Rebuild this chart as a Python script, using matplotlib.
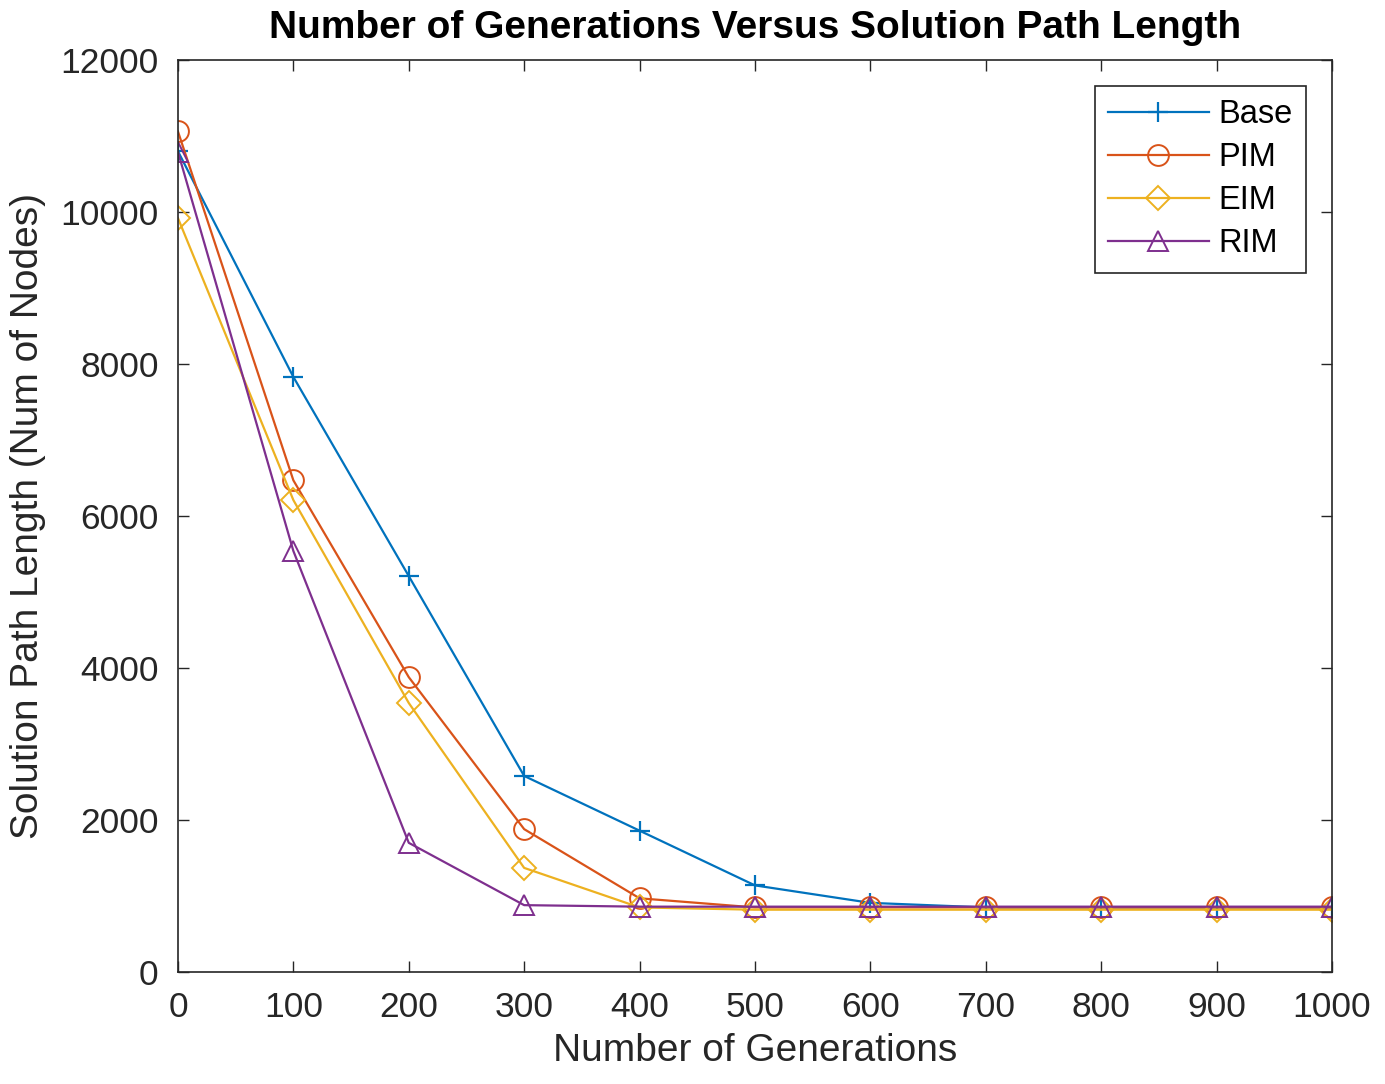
import matplotlib.pyplot as plt

generations = [0, 100, 200, 300, 400, 500, 600, 700, 800, 900, 1000]
base = [10800, 7830, 5210, 2580, 1860, 1140, 910, 850, 850, 850, 850]
pim = [11060, 6470, 3880, 1880, 970, 850, 850, 850, 850, 850, 850]
eim = [9920, 6210, 3540, 1370, 850, 820, 820, 820, 820, 820, 820]
rim = [10790, 5540, 1700, 880, 860, 860, 860, 860, 860, 860, 860]

plt.rcParams['font.family'] = ['Liberation Sans', 'DejaVu Sans']

fig = plt.figure(figsize=(13.85, 10.84), dpi=100)
ax = fig.add_axes([0.1285, 0.1033, 0.8332, 0.8413])

ms = 15
ax.plot(generations, base, color='#0072BD', marker='+', markersize=ms, mew=1.6, lw=1.6, label='Base')
ax.plot(generations, pim, color='#D95319', marker='o', markersize=ms, mfc='none', mew=1.4, lw=1.6, label='PIM')
ax.plot(generations, eim, color='#EDB120', marker='D', markersize=ms * 0.8, mfc='none', mew=1.4, lw=1.6, label='EIM')
ax.plot(generations, rim, color='#7E2F8E', marker='^', markersize=ms, mfc='none', mew=1.4, lw=1.6, label='RIM')

ax.set_xlim(0, 1000)
ax.set_ylim(0, 12000)
ax.set_xticks(generations)
ax.set_yticks(range(0, 12001, 2000))
ax.tick_params(direction='in', top=True, right=True, length=8, width=1, labelsize=25.5, colors='#262626', pad=14)
for s in ax.spines.values():
    s.set_color('#262626')
    s.set_linewidth(1.2)

ax.set_title('Number of Generations Versus Solution Path Length', fontsize=28, fontweight='bold', pad=16)
ax.set_xlabel('Number of Generations', fontsize=28, color='#262626', labelpad=6)
ax.set_ylabel('Solution Path Length (Num of Nodes)', fontsize=28, color='#262626', labelpad=10)

leg = ax.legend(loc='upper right', fontsize=23.5, fancybox=False, framealpha=1, edgecolor='#262626',
                handlelength=3.1, borderaxespad=0.8, labelspacing=0.37, handletextpad=0.3,
                borderpad=0.4)
leg.get_frame().set_linewidth(1.2)

fig.savefig('out.png', dpi=100)
